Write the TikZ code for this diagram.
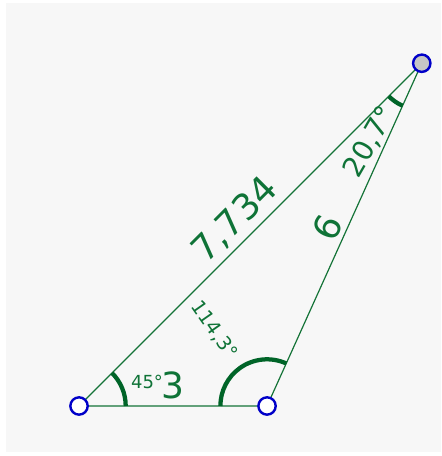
\documentclass[tikz,border=0pt]{standalone}
\usepackage{fontspec}
\setmainfont{DejaVu Sans}
\usepackage{tikz}
\usetikzlibrary{angles}
\definecolor{ggline}{RGB}{20,115,55}
\definecolor{ggang}{RGB}{0,100,40}
\definecolor{ggtxt}{RGB}{15,115,55}
\definecolor{ggblue}{RGB}{0,0,200}
\definecolor{ggbg}{RGB}{247,247,247}
\tikzset{
  side/.style={draw=ggline, line width=0.9pt},
  ang/.style={draw=ggang, line width=3.2pt, angle radius=35pt},
  pt/.style={circle, fill=white, draw=ggblue, line width=1.8pt, minimum size=13pt, inner sep=0pt},
  fixpt/.style={pt, fill=gray!45},
  lenlbl/.style={text=ggtxt, font=\fontsize{27}{30}\selectfont, inner sep=0pt},
  anglbl/.style={text=ggtxt, font=\fontsize{13.5}{16}\selectfont, inner sep=0pt}
}

\begin{document}
\begin{tikzpicture}[x=47pt, y=47pt]
  % canvas
  \useasboundingbox (-1.261,-0.798) rectangle (5.776,6.478);
  \fill[ggbg] (-1.165,-0.734) rectangle (5.776,6.430);

  \coordinate (A) at (0,0);
  \coordinate (B) at (3,0);
  \coordinate (C) at (45:7.734);

  % sides
  \draw[side] (A) -- (B) -- (C) -- cycle;

  % angle marks
  \pic[ang] {angle=B--A--C};
  \pic[ang] {angle=C--B--A};
  \pic[ang] {angle=A--C--B};

  % labels
  \node[lenlbl, rotate=45] (lAC) at (2.489,2.968) {7,734};
  \node[lenlbl, rotate=65] (lBC) at (3.957,2.840) {6};
  \node[lenlbl] (lAB) at (1.500,0.335) {3};
  \node[anglbl] (aA) at (1.085,0.383) {45°};
  \node[anglbl, rotate=-55, font=\fontsize{14.5}{17}\selectfont] (aB) at (2.154,1.213) {114,3°};
  \node[anglbl, rotate=60, font=\fontsize{21}{24}\selectfont] (aC) at (4.643,4.213) {20,7°};

  % points
  \node[pt] (pA) at (A) {};
  \node[pt] (pB) at (B) {};
  \node[fixpt] (pC) at (C) {};
\end{tikzpicture}
\end{document}
